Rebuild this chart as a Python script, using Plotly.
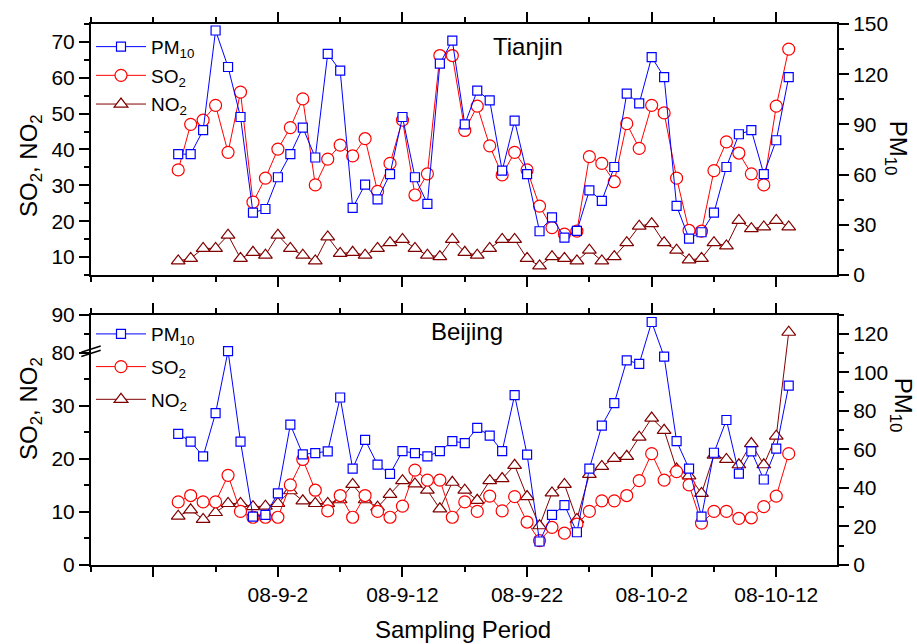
import pandas as pd
import plotly.graph_objects as go

# ---- daily sampling dates -------------------------------------------------
dates = pd.date_range("2008-08-25", "2008-10-13", freq="D")

# ---- Tianjin ----------------------------------------------------------------
tj_pm10 = [72.2, 72.2, 86.5, 146.1, 124.3, 94.4, 37.2, 39.4, 58.4, 72.2,
           88.1, 70.2, 132.2, 122.1, 40.1, 54.0, 45.1, 60.3, 94.4, 58.4,
           42.5, 126.3, 140.1, 90.0, 110.2, 104.3, 62.3, 92.2, 60.3, 26.1,
           34.4, 22.3, 26.3, 50.5, 44.3, 64.5, 108.4, 102.5, 130.2, 118.3,
           41.3, 21.7, 25.5, 37.2, 64.5, 84.1, 86.5, 60.3, 80.5, 118.3]
tj_so2 = [34.3, 47.0, 48.2, 52.3, 39.2, 56.0, 25.3, 32.0, 40.1, 46.1,
          54.1, 30.1, 37.3, 41.2, 38.2, 43.0, 28.3, 36.1, 48.2, 27.3,
          33.2, 66.2, 66.2, 45.3, 52.1, 41.0, 32.9, 39.2, 34.3, 24.2,
          18.2, 16.4, 17.2, 38.0, 36.1, 31.0, 47.2, 40.3, 52.3, 50.2,
          32.0, 17.4, 17.2, 34.1, 42.1, 39.0, 33.2, 30.1, 52.1, 68.0]
tj_no2 = [8.9, 9.6, 12.4, 12.4, 16.1, 9.6, 11.3, 10.5, 16.1, 12.4,
          10.5, 8.9, 15.6, 11.0, 11.3, 10.5, 12.4, 14.0, 14.9, 12.4,
          10.5, 10.1, 14.9, 11.3, 10.5, 12.4, 14.9, 14.9, 9.6, 7.5,
          10.1, 9.6, 8.9, 11.9, 8.9, 10.1, 14.0, 18.6, 19.3, 14.0,
          11.9, 9.2, 9.6, 14.0, 13.1, 20.2, 17.9, 18.4, 20.2, 18.4]

# ---- Beijing ----------------------------------------------------------------
bj_pm10 = [68.1, 64.1, 56.4, 78.9, 111.1, 64.1, 25.1, 26.0, 37.2, 72.9,
           57.4, 58.1, 59.0, 87.0, 50.0, 65.0, 52.1, 47.3, 59.1, 58.1,
           56.4, 59.1, 64.3, 63.3, 71.2, 67.2, 59.1, 88.2, 57.3, 12.2,
           26.0, 31.1, 17.0, 50.0, 72.4, 84.1, 106.3, 104.5, 126.2, 108.2,
           64.3, 50.0, 25.1, 58.3, 75.3, 47.5, 59.0, 44.4, 60.4, 93.2]
bj_so2 = [11.9, 13.1, 11.9, 11.9, 16.9, 10.1, 9.0, 9.0, 9.0, 15.1,
          19.9, 14.1, 10.2, 13.1, 9.0, 13.1, 10.1, 9.0, 11.1, 17.9,
          16.0, 16.0, 9.0, 11.9, 10.1, 13.0, 10.2, 12.9, 8.1, 4.6,
          7.1, 6.0, 7.7, 10.1, 12.1, 12.1, 13.1, 15.9, 21.0, 16.0,
          17.6, 15.1, 7.9, 10.1, 10.1, 8.8, 8.9, 11.0, 13.0, 21.0]
bj_no2 = [9.2, 10.4, 8.6, 9.9, 11.6, 11.6, 11.0, 11.1, 11.6, 14.0,
          12.1, 11.6, 11.6, 12.3, 15.2, 12.3, 10.9, 13.3, 15.9, 15.3,
          14.1, 10.6, 15.6, 14.1, 12.2, 15.9, 16.3, 18.8, 12.9, 7.4,
          13.6, 15.2, 8.6, 17.1, 18.6, 20.1, 20.5, 24.1, 27.7, 25.4,
          18.1, 16.8, 13.5, 20.7, 19.9, 18.9, 22.9, 18.9, 24.3, 85.4]

# ---- axis ticks ---------------------------------------------------------------
tick_dates = ["2008-08-23", "2008-09-02", "2008-09-12",
              "2008-09-22", "2008-10-02", "2008-10-12"]
tick_labels = ["", "08-9-2", "08-9-12", "08-9-22", "08-10-2", "08-10-12"]
x_range = ["2008-08-18", "2008-10-16 21:00"]

bj_left_ticks = [0, 10, 20, 30, 80, 90]
bj_left_minor = [5, 15, 25, 35, 85]

# Broken left axis for Beijing: 0-40 below the break, 80-90 above it
LOW_TOP, HIGH_BASE, HIGH_SCALE = 40.0, 80.0, 0.72


def brk(v):
    return v if v <= LOW_TOP else LOW_TOP + (v - HIGH_BASE) * HIGH_SCALE


FONT = "Liberation Sans, Arial, Helvetica, sans-serif"
C_PM, C_SO2, C_NO2 = "#0000FF", "#FF0000", "#800000"
DAY_MS = 86400000

fig = go.Figure()


def add_panel(pm, so2, no2, xa, ya_left, ya_right, legend, tag, transform=None):
    so2_v = [transform(v) for v in so2] if transform else so2
    no2_v = [transform(v) for v in no2] if transform else no2
    fig.add_trace(go.Scatter(
        x=dates, y=no2_v, name="NO<sub>2</sub>", xaxis=xa, yaxis=ya_left,
        legend=legend, legendrank=3, legendgroup=tag + "no2",
        mode="lines+markers", line=dict(color=C_NO2, width=1),
        marker=dict(symbol="triangle-up", size=12, color="white",
                    line=dict(color=C_NO2, width=1.2))))
    fig.add_trace(go.Scatter(
        x=dates, y=so2_v, name="SO<sub>2</sub>", xaxis=xa, yaxis=ya_left,
        legend=legend, legendrank=2, legendgroup=tag + "so2",
        mode="lines+markers", line=dict(color=C_SO2, width=1),
        marker=dict(symbol="circle", size=12, color="white",
                    line=dict(color=C_SO2, width=1.2))))
    fig.add_trace(go.Scatter(
        x=dates, y=pm, name="PM<sub>10</sub>", xaxis=xa, yaxis=ya_right,
        legend=legend, legendrank=1, legendgroup=tag + "pm",
        mode="lines+markers", line=dict(color=C_PM, width=1),
        marker=dict(symbol="square", size=9, color="white",
                    line=dict(color=C_PM, width=1.2))))


add_panel(tj_pm10, tj_so2, tj_no2, "x", "y", "y2", "legend", "tj")
add_panel(bj_pm10, bj_so2, bj_no2, "x2", "y3", "y4", "legend2", "bj",
          transform=brk)

TOP_DOM = [0.5362, 1.0]
BOT_DOM = [0.0, 0.4627]

axis_common = dict(showline=True, linecolor="black", linewidth=2,
                   ticks="outside", ticklen=10, tickwidth=1.5,
                   tickcolor="black", showgrid=False, zeroline=False,
                   tickfont=dict(family=FONT, size=21, color="black"))

x_common = dict(axis_common, type="date", range=x_range, tickmode="array",
                tickvals=tick_dates, ticktext=tick_labels, mirror="ticks",
                minor=dict(dtick=5 * DAY_MS, tick0="2008-08-18", ticklen=5,
                           ticks="outside", tickwidth=1.5, tickcolor="black"))

legend_common = dict(x=0.0, xanchor="left", yanchor="top",
                     bgcolor="rgba(0,0,0,0)", itemwidth=50,
                     traceorder="grouped",
                     font=dict(family=FONT, size=19, color="black"))

fig.update_layout(
    width=917, height=644,
    margin=dict(l=91, r=80, t=21, b=79),
    paper_bgcolor="white", plot_bgcolor="white",
    font=dict(family=FONT, color="black"),
    xaxis=dict(x_common, anchor="y", showticklabels=False),
    xaxis2=dict(x_common, anchor="y3", matches="x"),
    yaxis=dict(axis_common, domain=TOP_DOM, range=[5, 75], anchor="x",
               tick0=10, dtick=10,
               minor=dict(dtick=5, ticklen=5, ticks="outside",
                          tickwidth=1.5, tickcolor="black")),
    yaxis2=dict(axis_common, overlaying="y", side="right", anchor="x",
                range=[0, 150], tick0=0, dtick=30,
                minor=dict(dtick=15, ticklen=5, ticks="outside",
                           tickwidth=1.5, tickcolor="black")),
    yaxis3=dict(axis_common, domain=BOT_DOM, anchor="x2",
                range=[0, brk(90)], tickmode="array",
                tickvals=[brk(v) for v in bj_left_ticks],
                ticktext=[str(v) for v in bj_left_ticks],
                minor=dict(tickmode="array",
                           tickvals=[brk(v) for v in bj_left_minor],
                           ticklen=5, ticks="outside",
                           tickwidth=1.5, tickcolor="black")),
    yaxis4=dict(axis_common, overlaying="y3", side="right", anchor="x2",
                range=[0, 130], tick0=0, dtick=20,
                minor=dict(dtick=10, ticklen=5, ticks="outside",
                           tickwidth=1.5, tickcolor="black")),
    legend=dict(legend_common, y=0.993, tracegroupgap=1),
    legend2=dict(legend_common, y=0.462, tracegroupgap=5),
)

# axis break marks on the Beijing left axis
for dy in (0.0, 0.8):
    fig.add_shape(type="line", xref="paper", yref="y3",
                  x0=-0.013, y0=brk(80) - 0.7 + dy,
                  x1=0.013, y1=brk(80) + 0.5 + dy,
                  line=dict(color="black", width=1.5))

ann_font = dict(family=FONT, size=24, color="black")
annotations = [
    dict(text="Tianjin", x=0.586, y=0.958),
    dict(text="Beijing", x=0.504, y=0.432),
    dict(text="SO<sub>2</sub>, NO<sub>2</sub>", x=-0.082, y=0.739,
         textangle=-90),
    dict(text="SO<sub>2</sub>, NO<sub>2</sub>", x=-0.082, y=0.290,
         textangle=-90),
    dict(text="PM<sub>10</sub>", x=1.080, y=0.770, textangle=90),
    dict(text="PM<sub>10</sub>", x=1.086, y=0.296, textangle=90),
    dict(text="Sampling Period", x=0.499, y=-0.1195),
]
for a in annotations:
    fig.add_annotation(xref="paper", yref="paper", showarrow=False,
                       xanchor="center", yanchor="middle", font=ann_font, **a)

fig.write_html("out.html")
